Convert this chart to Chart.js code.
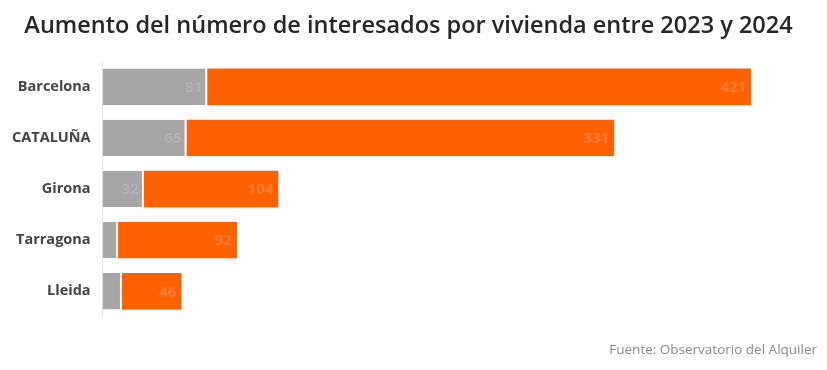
<!DOCTYPE html>
<html>
<head>
<meta charset="utf-8">
<script src="https://cdn.jsdelivr.net/npm/chart.js@4"></script>
<style>
  html, body { margin: 0; padding: 0; background: #fff; }
  #wrap { width: 827px; height: 370px; }
</style>
</head>
<body>
<div id="wrap"><canvas id="chart" width="827" height="370"></canvas></div>
<script>
// Interesados por vivienda: valor 2023 (gris) + aumento 2024 (naranja)
const regions = ['Barcelona', 'CATALUÑA', 'Girona', 'Tarragona', 'Lleida'];
const base2023 = [81, 65, 32, 12, 15];
const rise2024 = [421, 331, 104, 92, 46];

const GREY = '#a6a6a6';
const ORANGE = '#ff6000';

// faint value labels drawn at the inner end of each segment
const barLabels = {
  id: 'barLabels',
  afterDatasetsDraw(chart) {
    const ctx = chart.ctx;
    ctx.save();
    ctx.font = 'bold 15px "Open Sans", sans-serif';
    ctx.textAlign = 'right';
    ctx.textBaseline = 'middle';
    chart.data.datasets.forEach((ds, di) => {
      const meta = chart.getDatasetMeta(di);
      meta.data.forEach((bar, i) => {
        const w = Math.abs(bar.x - bar.base);
        const txt = String(ds.data[i]);
        if (w < ctx.measureText(txt).width + 12) return;
        ctx.fillStyle = di === 0 ? '#b3b3b3' : '#ff7d3a';
        ctx.fillText(txt, bar.x - 5, bar.y + 1);
      });
    });
    ctx.restore();
  }
};

new Chart(document.getElementById('chart'), {
  type: 'bar',
  data: {
    labels: regions,
    datasets: [
      { label: '2023', data: base2023, backgroundColor: GREY, borderColor: '#fff', borderWidth: { right: 2 }, borderSkipped: false },
      { label: '2024', data: rise2024, backgroundColor: ORANGE, borderWidth: 0 },
    ],
  },
  options: {
    indexAxis: 'y',
    responsive: false,
    animation: false,
    categoryPercentage: 0.71,
    barPercentage: 1,
    layout: { padding: { left: 0, right: 10, top: 0, bottom: 0 } },
    plugins: {
      legend: { display: false },
      tooltip: { enabled: false },
      title: {
        display: true,
        text: 'Aumento del número de interesados por vivienda entre 2023 y 2024',
        color: '#262626',
        font: { family: '"Open Sans", sans-serif', size: 23.5, weight: '600' },
        padding: { top: 12, bottom: 21 },
      },
      subtitle: {
        display: true,
        position: 'bottom',
        align: 'end',
        text: 'Fuente: Observatorio del Alquiler',
        color: '#8a8a8a',
        font: { family: '"Open Sans", sans-serif', size: 13.5 },
        padding: { top: 25, bottom: 12 },
      },
    },
    scales: {
      x: {
        stacked: true,
        display: false,
        min: 0,
        max: 553,
      },
      y: {
        stacked: true,
        grid: { display: false, drawTicks: false },
        border: { display: true, color: '#e2e2e2', width: 1 },
        ticks: {
          color: '#444',
          padding: 12,
          font: { family: '"Open Sans", sans-serif', size: 14.5, weight: 'bold' },
        },
      },
    },
  },
  plugins: [barLabels],
});
</script>
</body>
</html>
